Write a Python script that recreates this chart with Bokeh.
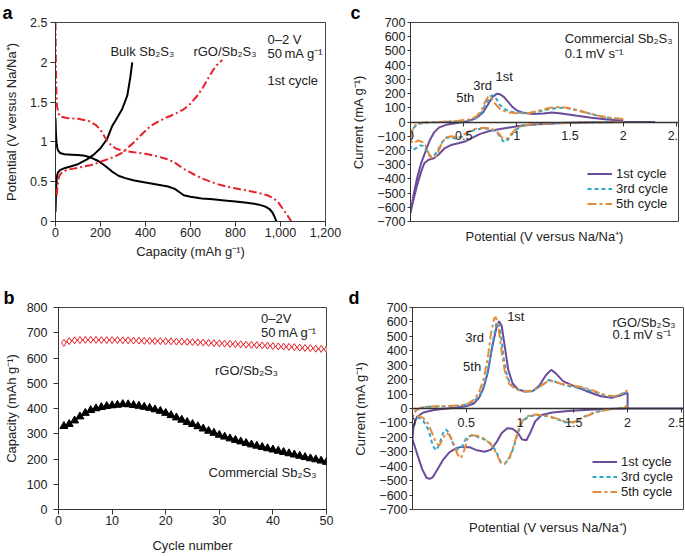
from bokeh.plotting import figure
from bokeh.models import (LinearAxis, FixedTicker, NumeralTickFormatter, Label,
                          Legend, LegendItem, Range1d)
from bokeh.layouts import column, row
from bokeh.embed import file_html
from bokeh.resources import INLINE

FONT = "Liberation Sans"

# ---------------- data ----------------
# Panel a: first-cycle charge/discharge profiles
bulk_dis_cap = [0, 2, 5, 10, 20, 40, 70, 100, 130, 160, 190, 220, 250, 280, 310, 350, 400, 450, 500, 530, 550,
                570, 600, 650, 700, 750, 800, 850, 900, 930, 950, 965, 975, 982]
bulk_dis_v = [1.30, 1.10, 0.97, 0.90, 0.86, 0.845, 0.84, 0.835, 0.825, 0.80, 0.76, 0.70, 0.63, 0.575, 0.545, 0.515,
              0.49, 0.465, 0.44, 0.41, 0.37, 0.33, 0.31, 0.29, 0.28, 0.265, 0.25, 0.235, 0.215, 0.19, 0.16, 0.11,
              0.05, 0.0]
bulk_chg_cap = [0, 3, 6, 10, 20, 40, 70, 100, 140, 170, 200, 230, 252, 267, 296, 319, 333, 341]
bulk_chg_v = [0.12, 0.42, 0.56, 0.61, 0.645, 0.67, 0.695, 0.72, 0.78, 0.84, 0.92, 1.04, 1.20, 1.27, 1.41, 1.58,
              1.82, 2.0]
rgo_dis_cap = [0, 1, 2, 4, 7, 12, 20, 50, 100, 150, 180, 200, 215, 230, 250, 274, 300, 348, 400, 450, 500, 530,
               570, 610, 644, 680, 719, 760, 793, 830, 867, 900, 941, 970, 990, 1010, 1030, 1048]
rgo_dis_v = [2.5, 2.2, 1.9, 1.6, 1.45, 1.37, 1.32, 1.30, 1.29, 1.26, 1.21, 1.15, 1.08, 1.01, 0.95, 0.91, 0.89,
             0.87, 0.85, 0.82, 0.78, 0.74, 0.66, 0.60, 0.55, 0.51, 0.47, 0.44, 0.42, 0.40, 0.38, 0.36, 0.33, 0.29,
             0.24, 0.16, 0.08, 0.0]
rgo_chg_cap = [6, 8, 12, 18, 30, 52, 90, 126, 160, 200, 240, 274, 300, 319, 350, 378, 400, 422, 460, 496, 530,
               570, 600, 630, 655, 674, 700, 719, 741]
rgo_chg_v = [0.33, 0.42, 0.52, 0.58, 0.62, 0.65, 0.67, 0.69, 0.71, 0.75, 0.79, 0.83, 0.87, 0.92, 1.0, 1.08, 1.14,
             1.2, 1.26, 1.31, 1.35, 1.41, 1.48, 1.58, 1.68, 1.78, 1.90, 1.97, 2.03]
a_xticks = [0, 200, 400, 600, 800, 1000, 1200]
a_yticks = [0, 0.5, 1, 1.5, 2, 2.5]

# Panel b: cycling
cycles = list(range(1, 51))
rgo_cap = [660, 667, 670, 671, 672, 672, 672, 671, 671, 671, 671, 670, 670, 669, 669, 668, 668, 667, 667, 666,
           666, 665, 665, 664, 663, 662, 661, 660, 659, 658, 657, 656, 655, 654, 653, 652, 651, 650, 649, 647,
           646, 645, 644, 643, 641, 640, 639, 637, 636, 634]
comm_cap = [330, 338, 352, 368, 382, 393, 400, 405, 409, 412, 414, 417, 416, 413, 410, 406, 402, 396, 390, 382,
            373, 364, 355, 346, 338, 329, 320, 311, 303, 295, 288, 281, 275, 269, 263, 257, 252, 247, 242, 237,
            232, 227, 222, 217, 212, 207, 202, 198, 193, 188]
b_xticks = [0, 10, 20, 30, 40, 50]
b_yticks = [0, 100, 200, 300, 400, 500, 600, 700, 800]

# Panel c: CV of commercial Sb2S3
c1_v = [2.3, 2.0, 1.7, 1.4, 1.2, 1.05, 0.9, 0.75, 0.65, 0.58, 0.52, 0.45, 0.38, 0.32, 0.27, 0.22, 0.17, 0.13, 0.1,
        0.06, 0.03, 0.0,
        0.03, 0.06, 0.1, 0.14, 0.18, 0.22, 0.27, 0.35, 0.45, 0.55, 0.62, 0.68, 0.73, 0.77, 0.81, 0.84, 0.88, 0.92,
        0.96, 1.0, 1.05, 1.15, 1.25, 1.33, 1.42, 1.55, 1.7, 1.85, 2.0]
c1_i = [0, 0, -2, -8, -15, -25, -42, -62, -85, -112, -135, -150, -162, -185, -225, -255, -265, -290, -350,
        -450, -540, -640,
        -510, -400, -290, -210, -130, -75, -38, -17, -5, 8, 28, 65, 125, 175, 198, 196, 175, 140,
        105, 82, 67, 57, 60, 66, 60, 45, 30, 18, 10]
c3_v = [2.0, 1.8, 1.5, 1.3, 1.15, 1.05, 0.98, 0.93, 0.9, 0.87, 0.84, 0.8, 0.75, 0.68, 0.6, 0.53, 0.47, 0.43, 0.38,
        0.33, 0.29, 0.25, 0.21, 0.18, 0.15, 0.12, 0.09, 0.05, 0.02, 0.0,
        0.01, 0.03, 0.07, 0.15, 0.3, 0.45, 0.55, 0.62, 0.67, 0.71, 0.75, 0.77, 0.8, 0.84, 0.9, 0.97, 1.1, 1.2,
        1.3, 1.4, 1.48, 1.58, 1.68, 1.78, 1.9, 2.0]
c3_i = [0, -2, -5, -8, -15, -28, -60, -110, -140, -135, -100, -65, -50, -45, -55, -80, -110, -118, -108,
        -112, -150, -210, -245, -240, -200, -168, -165, -185, -198, -185,
        -90, -40, -15, -4, 0, 5, 12, 30, 70, 130, 180, 188, 172, 120, 85, 68, 62, 72,
        90, 100, 97, 80, 60, 40, 25, 20]
c5_v = [2.0, 1.8, 1.5, 1.3, 1.15, 1.05, 0.98, 0.93, 0.9, 0.87, 0.84, 0.8, 0.75, 0.68, 0.6, 0.53, 0.48, 0.44, 0.39,
        0.34, 0.3, 0.26, 0.23, 0.2, 0.17, 0.14, 0.11, 0.07, 0.03, 0.0,
        0.01, 0.04, 0.08, 0.15, 0.3, 0.45, 0.55, 0.62, 0.67, 0.7, 0.73, 0.76, 0.8, 0.85, 0.92, 1.0, 1.1, 1.2,
        1.3, 1.4, 1.48, 1.58, 1.68, 1.78, 1.9, 2.0]
c5_i = [0, -2, -5, -8, -14, -25, -55, -100, -122, -118, -90, -60, -45, -40, -50, -75, -100, -112, -100,
        -105, -140, -210, -250, -255, -220, -165, -140, -130, -150, -130,
        -70, -25, -8, -2, 2, 8, 18, 40, 85, 140, 178, 168, 125, 85, 68, 62, 62, 78,
        98, 106, 100, 82, 60, 42, 28, 22]

# Panel d: CV of rGO/Sb2S3
d1_v = [2.6, 2.0, 1.8, 1.6, 1.45, 1.3, 1.2, 1.14, 1.1, 1.06, 1.02, 0.98, 0.93, 0.88, 0.83, 0.78, 0.73, 0.67, 0.6,
        0.53, 0.45, 0.4, 0.34, 0.28, 0.23, 0.19, 0.16, 0.13, 0.09, 0.05, 0.02, 0.0,
        0.01, 0.04, 0.1, 0.2, 0.3, 0.4, 0.5, 0.57, 0.62, 0.66, 0.7, 0.74, 0.78, 0.805, 0.83, 0.86, 0.89, 0.93,
        0.98, 1.05, 1.12, 1.18, 1.24, 1.29, 1.33, 1.4, 1.5, 1.62, 1.75, 1.85, 1.93, 2.0, 2.0]
d1_i = [0, 0, -3, -10, -18, -28, -45, -90, -160, -220, -215, -170, -140, -137, -170, -235, -285, -300, -290,
        -268, -266, -278, -305, -360, -425, -475, -488, -480, -420, -330, -260, -215,
        -120, -60, -28, -10, -2, 5, 15, 35, 75, 140, 250, 420, 560, 605, 570, 420, 270, 175,
        132, 118, 122, 160, 230, 268, 245, 190, 155, 120, 85, 75, 90, 108, 0]
d3_v = [2.0, 1.97, 1.9, 1.8, 1.7, 1.6, 1.5, 1.42, 1.35, 1.25, 1.15, 1.08, 1.02, 0.98, 0.94, 0.9, 0.86, 0.82, 0.78,
        0.73, 0.67, 0.6, 0.55, 0.5, 0.46, 0.42, 0.38, 0.34, 0.31, 0.28, 0.25, 0.22, 0.19, 0.15, 0.1, 0.05, 0.0,
        0.03, 0.08, 0.15, 0.3, 0.45, 0.52, 0.58, 0.63, 0.67, 0.71, 0.75, 0.78, 0.795, 0.82, 0.85, 0.88, 0.92,
        0.98, 1.05, 1.12, 1.2, 1.27, 1.33, 1.42, 1.52, 1.62, 1.72, 1.82, 1.9, 1.96, 2.0]
d3_i = [20, 5, 0, -8, -25, -55, -95, -95, -75, -52, -45, -55, -90, -170, -270, -350, -380, -370, -300,
        -245, -215, -195, -185, -205, -265, -285, -250, -170, -145, -175, -250, -290, -260, -150, -85, -62, -60,
        -15, 5, 12, 15, 20, 30, 55, 100, 170, 300, 470, 590, 600, 520, 340, 220, 160,
        132, 118, 122, 160, 198, 185, 160, 148, 132, 108, 82, 88, 105, 115]
d5_v = [2.0, 1.97, 1.9, 1.8, 1.7, 1.6, 1.5, 1.42, 1.35, 1.25, 1.15, 1.08, 1.02, 0.98, 0.94, 0.9, 0.86, 0.82, 0.78,
        0.73, 0.67, 0.6, 0.55, 0.51, 0.48, 0.45, 0.42, 0.38, 0.34, 0.31, 0.28, 0.25, 0.22, 0.19, 0.15, 0.1, 0.05,
        0.0,
        0.03, 0.08, 0.15, 0.3, 0.45, 0.52, 0.58, 0.62, 0.66, 0.7, 0.73, 0.76, 0.775, 0.8, 0.83, 0.86, 0.9,
        0.96, 1.03, 1.1, 1.18, 1.25, 1.3, 1.38, 1.48, 1.58, 1.68, 1.78, 1.88, 1.95, 2.0]
d5_i = [20, 5, -2, -10, -28, -58, -95, -92, -72, -50, -42, -50, -85, -160, -260, -340, -385, -375, -310,
        -250, -210, -188, -185, -215, -290, -345, -320, -240, -180, -170, -215, -255, -240, -185, -110, -65, -52,
        -55,
        -12, 6, 14, 16, 22, 35, 65, 115, 200, 350, 520, 625, 635, 560, 390, 250, 170,
        135, 118, 120, 150, 185, 190, 172, 160, 148, 125, 95, 85, 105, 125]

cv_xticks = [0, 0.5, 1, 1.5, 2, 2.5]
cv_yticks = [-700, -600, -500, -400, -300, -200, -100, 0, 100, 200, 300, 400, 500, 600, 700]
cv_ylabels = ["\u2212700", "\u2212600", "\u2212500", "\u2212400", "\u2212300", "\u2212200", "\u2212100", "0",
              "100", "200", "300", "400", "500", "600", "700"]
cycle_names = ["1st cycle", "3rd cycle", "5th cycle"]

RED = "#e8202a"
PURPLE = "#6c4b9b"
TEAL = "#2ea6c9"
ORANGE = "#e58b3c"
TXT = "#222222"


def style_axis(ax, tick_out=5, lab_off=3, title_off=6):
    ax.major_label_text_font = FONT
    ax.major_label_text_font_size = "12.5px"
    ax.major_label_text_color = TXT
    ax.axis_label_text_font = FONT
    ax.axis_label_text_font_size = "13px"
    ax.axis_label_text_font_style = "normal"
    ax.axis_label_text_color = TXT
    ax.axis_line_color = "#333333"
    ax.major_tick_line_color = "#333333"
    ax.major_tick_out = tick_out
    ax.major_tick_in = 0
    ax.minor_tick_line_color = None
    ax.major_label_standoff = lab_off
    ax.axis_label_standoff = title_off


def base_fig(width, height, xr, yr, ml, mr, mt, mb, letter, letter_off, x_axis=True):
    p = figure(width=width, height=height, x_range=Range1d(*xr), y_range=Range1d(*yr),
               output_backend="svg", toolbar_location=None,
               x_axis_location="below" if x_axis else None,
               min_border_left=ml, min_border_right=mr, min_border_top=mt, min_border_bottom=mb,
               title=letter)
    p.title.text_font = FONT
    p.title.text_font_size = "18px"
    p.title.text_font_style = "bold"
    p.title.text_color = "black"
    p.title.align = "left"
    p.title.offset = letter_off
    p.title.standoff = 0
    p.title.text_line_height = 0.8
    p.grid.grid_line_color = None
    p.outline_line_color = "#444444"
    p.outline_line_width = 1
    p.background_fill_color = "white"
    p.border_fill_color = "white"
    return p


def lab(p, x, y, text, size="13px"):
    p.add_layout(Label(x=x, y=y, text=text, text_font=FONT, text_font_size=size,
                       text_baseline="middle", text_align="left", text_color=TXT))


# ---------------- panel a ----------------
pa = base_fig(345, 270, (0, 1200), (0, 2.5), 55, 20, 18, 49, "a", -53)
style_axis(pa.xaxis[0], 5, 1, 4)
style_axis(pa.yaxis[0], 5, 3, 8)
pa.xaxis.ticker = FixedTicker(ticks=a_xticks)
pa.xaxis.formatter = NumeralTickFormatter(format="0,0")
pa.yaxis.ticker = FixedTicker(ticks=a_yticks)
pa.yaxis.formatter = NumeralTickFormatter(format="0.[0]")
pa.xaxis.axis_label = "Capacity (mAh g\u207b\u00b9)"
pa.yaxis.axis_label = "Potential (V versus Na/Na\u207a)"
pa.line(bulk_dis_cap, bulk_dis_v, line_color="black", line_width=2)
pa.line(bulk_chg_cap, bulk_chg_v, line_color="black", line_width=2)
pa.line(rgo_dis_cap, rgo_dis_v, line_color=RED, line_width=2, line_dash="8 3 2 3")
pa.line(rgo_chg_cap, rgo_chg_v, line_color=RED, line_width=2, line_dash="8 3 2 3")
lab(pa, 244, 2.14, "Bulk Sb\u2082S\u2083")
lab(pa, 613, 2.14, "rGO/Sb\u2082S\u2083")
lab(pa, 942, 2.29, "0\u20132 V")
lab(pa, 942, 2.11, "50\u2009mA g\u207b\u00b9")
lab(pa, 942, 1.77, "1st cycle")

# ---------------- panel b ----------------
pb = base_fig(345, 286, (0, 50), (0, 800), 55, 19, 37, 47, "b", -55)
style_axis(pb.xaxis[0], 5, 1, 10)
style_axis(pb.yaxis[0], 5, 6, 5)
pb.xaxis.ticker = FixedTicker(ticks=b_xticks)
pb.yaxis.ticker = FixedTicker(ticks=b_yticks)
pb.xaxis.axis_label = "Cycle number"
pb.yaxis.axis_label = "Capacity (mAh g\u207b\u00b9)"
pb.line(cycles, rgo_cap, line_color=RED, line_width=1.5)
pb.scatter(cycles, rgo_cap, marker="diamond", size=7, line_color=RED, fill_color="white", line_width=1)
pb.line(cycles, comm_cap, line_color="black", line_width=1.5)
pb.scatter(cycles, comm_cap, marker="triangle", size=8, line_color="black", fill_color="black")
lab(pb, 37.8, 758, "0\u20132V")
lab(pb, 37.8, 702, "50\u2009mA g\u207b\u00b9")
lab(pb, 29.2, 551, "rGO/Sb\u2082S\u2083")
lab(pb, 28.0, 146, "Commercial Sb\u2082S\u2083")


# ---------------- CV panels ----------------
def cv_fig(width, height, ml, mr, mt, mb, title_off, letter, letter_off):
    p = base_fig(width, height, (0, 2.52), (-700, 700), ml, mr, mt, mb, letter, letter_off, x_axis=False)
    style_axis(p.yaxis[0], 3, 2, 8)
    p.yaxis.ticker = FixedTicker(ticks=cv_yticks)
    p.yaxis.major_label_overrides = dict(zip(cv_yticks, cv_ylabels))
    p.yaxis.axis_label = "Current (mA g\u207b\u00b9)"
    ax0 = LinearAxis(fixed_location=0, ticker=FixedTicker(ticks=cv_xticks),
                     formatter=NumeralTickFormatter(format="0.[0]"))
    style_axis(ax0, 4, 5, 0)
    ax0.axis_line_width = 1.5
    p.add_layout(ax0, "below")
    axl = LinearAxis(ticker=FixedTicker(ticks=[]), axis_label="Potential (V versus Na/Na\u207a)")
    style_axis(axl, 0, 0, title_off)
    axl.axis_line_color = None
    axl.major_tick_line_color = None
    p.add_layout(axl, "below")
    return p


def cv_legend(p, rends, margin, lh):
    items = [LegendItem(label=n, renderers=[r]) for n, r in zip(cycle_names, rends)]
    lg = Legend(items=items, location="bottom_right")
    lg.border_line_color = None
    lg.background_fill_alpha = 0
    lg.label_text_font = FONT
    lg.label_text_font_size = "13px"
    lg.label_text_color = TXT
    lg.glyph_width = 25
    lg.glyph_height = lh
    lg.label_height = lh
    lg.spacing = 0
    lg.padding = 2
    lg.margin = margin
    lg.label_standoff = 4
    p.add_layout(lg)


pc = cv_fig(340, 270, 65, 7, 17, 48, 7, "c", -60)
r1 = pc.line(c1_v, c1_i, line_color=PURPLE, line_width=2)
r3 = pc.line(c3_v, c3_i, line_color=TEAL, line_width=2, line_dash="4 3")
r5 = pc.line(c5_v, c5_i, line_color=ORANGE, line_width=2, line_dash="9 3 3 3")
cv_legend(pc, [r1, r3, r5], 10, 13)
lab(pc, 1.45, 590, "Commercial Sb\u2082S\u2083")
lab(pc, 1.45, 480, "0.1\u2009mV s\u207b\u00b9")
lab(pc, 0.80, 323, "1st")
lab(pc, 0.59, 255, "3rd")
lab(pc, 0.43, 173, "5th")

pd_ = cv_fig(340, 286, 67, 2, 37, 46, 10, "d", -64)
q1 = pd_.line(d1_v, d1_i, line_color=PURPLE, line_width=2)
q3 = pd_.line(d3_v, d3_i, line_color=TEAL, line_width=2, line_dash="4 3")
q5 = pd_.line(d5_v, d5_i, line_color=ORANGE, line_width=2, line_dash="9 3 3 3")
cv_legend(pd_, [q1, q3, q5], 10, 11)
lab(pd_, 1.86, 599, "rGO/Sb\u2082S\u2083")
lab(pd_, 1.86, 516, "0.1\u2009mV s\u207b\u00b9")
lab(pd_, 0.88, 640, "1st")
lab(pd_, 0.49, 489, "3rd")
lab(pd_, 0.47, 289, "5th")

layout = column(row(pa, pc), row(pb, pd_))
open("out.html", "w").write(file_html(layout, INLINE))
